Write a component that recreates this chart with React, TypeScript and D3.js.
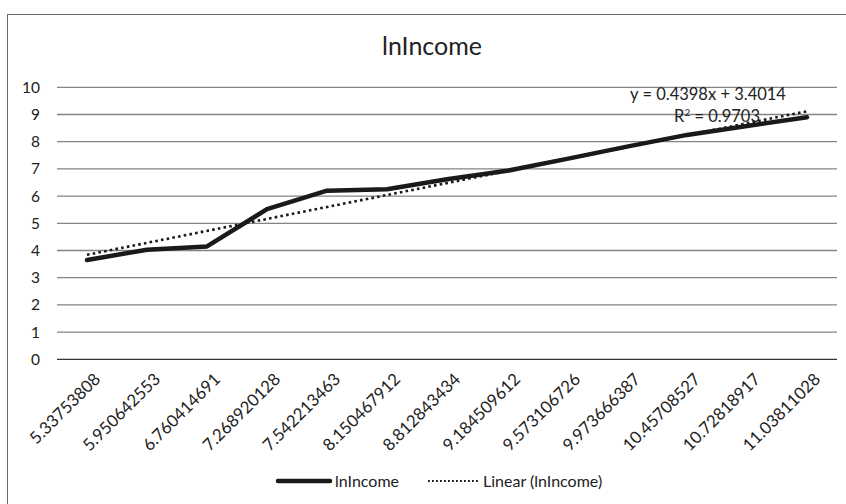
import React from "react";
import * as d3 from "d3";

const categories: string[] = [
  "5.33753808", "5.950642553", "6.760414691", "7.268920128", "7.542213463",
  "8.150467912", "8.812843434", "9.184509612", "9.573106726", "9.973666387",
  "10.45708527", "10.72818917", "11.03811028",
];
const lnIncome: number[] = [3.65, 4.03, 4.15, 5.52, 6.2, 6.25, 6.62, 6.93, 7.37, 7.82, 8.25, 8.58, 8.9];
const trendSlope = 0.4398;
const trendIntercept = 3.4014;
const yTicks: number[] = [0, 1, 2, 3, 4, 5, 6, 7, 8, 9, 10];
const title = "lnIncome";
const equationText = "y = 0.4398x + 3.4014";
const r2Value = "0.9703";
const seriesName = "lnIncome";
const trendName = "Linear (lnIncome)";

const FONT = "Lato, 'Open Sans', sans-serif";

export default function App() {
  const W = 846;
  const H = 504;
  const plotLeft = 57;
  const plotRight = 837;
  const y = d3.scaleLinear().domain([0, 10]).range([359.3, 87.3]);
  const x = d3
    .scaleBand<string>()
    .domain(categories)
    .range([plotLeft, plotRight])
    .paddingInner(0)
    .paddingOuter(0);
  const cx = (c: string) => (x(c) ?? 0) + x.bandwidth() / 2;

  const line = d3
    .line<number>()
    .x((_, i) => cx(categories[i]))
    .y((d) => y(d));

  const trendPts: [number, number][] = [
    [cx(categories[0]), y(trendSlope * 1 + trendIntercept)],
    [cx(categories[categories.length - 1]), y(trendSlope * categories.length + trendIntercept)],
  ];

  return (
    <svg
      width={W}
      height={H}
      style={{ position: "absolute", left: 0, top: 0, background: "#fff" }}
      fontFamily={FONT}
    >
      <rect x={0} y={0} width={W} height={H} fill="#fff" />
      <rect x={7.5} y={14.5} width={900} height={600} fill="none" stroke="#6b6b6b" strokeWidth={1} />
      <text x={432} y={55} textAnchor="middle" fontSize={25} fill="#222">
        {title}
      </text>
      {yTicks.map((t) => (
        <g key={t}>
          <line
            x1={plotLeft}
            x2={plotRight}
            y1={y(t)}
            y2={y(t)}
            stroke={t === 0 ? "#333" : "#858585"}
            strokeWidth={1.3}
          />
          <text x={40} y={y(t)} dy="0.35em" textAnchor="end" fontSize={15.5} fill="#222">
            {t}
          </text>
        </g>
      ))}
      {categories.map((c) => (
        <text
          key={c}
          transform={`translate(${cx(c) + 6},${372}) rotate(-45)`}
          textAnchor="end"
          dy="0.7em"
          fontSize={16.8}
          fill="#222"
        >
          {c}
        </text>
      ))}
      <path
        d={d3.line()(trendPts) ?? ""}
        fill="none"
        stroke="#1a1a1a"
        strokeWidth={2.6}
        strokeDasharray="2.6 3.2"
      />
      <path
        d={line(lnIncome) ?? ""}
        fill="none"
        stroke="#1a1a1a"
        strokeWidth={4.5}
        strokeLinejoin="round"
        strokeLinecap="round"
      />
      <text x={708} y={100} textAnchor="middle" fontSize={16.5} fill="#222">
        {equationText}
      </text>
      <text x={717} y={122} textAnchor="middle" fontSize={16.5} fill="#222">
        R<tspan dy={-6} fontSize={10}>2</tspan>
        <tspan dy={6}> = {r2Value}</tspan>
      </text>
      <line x1={278} x2={330} y1={481} y2={481} stroke="#1a1a1a" strokeWidth={4.5} strokeLinecap="round" />
      <text x={335} y={481} dy="0.35em" fontSize={16} fill="#222">
        {seriesName}
      </text>
      <line x1={428} x2={478} y1={481} y2={481} stroke="#1a1a1a" strokeWidth={1.8} strokeDasharray="1.8 2.2" />
      <text x={483} y={481} dy="0.35em" fontSize={16} fill="#222">
        {trendName}
      </text>
    </svg>
  );
}
